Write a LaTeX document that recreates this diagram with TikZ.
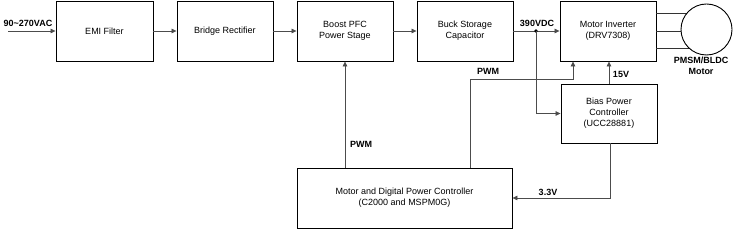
\documentclass[tikz,border=0pt]{standalone}
\usepackage{fontspec}
\setmainfont{Liberation Sans}
\usetikzlibrary{arrows.meta}
\begin{document}
\begin{tikzpicture}[x=1pt,y=-1pt,
  blk/.style={draw=black,line width=0.9pt,minimum width=96pt,minimum height=60pt,inner sep=0pt,align=center,font=\fontsize{9}{11}\selectfont},
  conn/.style={draw=black!70,line width=0.7pt},
  arr/.style={conn,-{Triangle[length=5pt,width=4.5pt]}},
  lbl/.style={font=\fontsize{9}{11}\selectfont\bfseries,inner sep=0pt,align=center}]
\useasboundingbox (0,0) rectangle (740,229);
\node[blk,minimum width=97pt] (emi) at (104.5,31) {EMI Filter};
\node[blk] (bridge) at (225,31) {Bridge Rectifier};
\node[blk] (boost) at (345,31) {Boost PFC\\Power Stage};
\node[blk] (buck) at (465,31) {Buck Storage\\Capacitor};
\node[blk] (inv) at (608,31) {Motor Inverter\\(DRV7308)};
\node[blk,minimum height=59pt] (bias) at (609,113.5) {Bias Power\\Controller\\(UCC28881)};
\node[blk,minimum width=215pt] (ctrl) at (404.5,198) {Motor and Digital Power Controller\\(C2000 and MSPM0G)};

\coordinate (in) at (8,31);
\draw[arr] (in) -- (emi.west);
\node[lbl] (inlbl) at (28,23) {90\textasciitilde270VAC};
\draw[arr] (emi) -- (bridge);
\draw[arr] (bridge) -- (boost);
\draw[arr] (boost) -- (buck);
\draw[arr] (buck) -- (inv);
\coordinate (dot) at (536,31);
\fill[black] (dot) circle (1.8pt);
\node[lbl] (v390) at (537,23) {390VDC};
\draw[arr] (dot) |- (bias.west);

\draw[arr] (bias.north) -- (inv.south -| bias.north);
\node[lbl] (v15) at (621,74) {15V};

\coordinate (p1) at (470,79);
\coordinate (p2) at (573,79);
\draw[arr] (ctrl.north -| p1) -- (p1) -- (p2) -- (inv.south -| p2);
\node[lbl] (pwm1) at (488,71) {PWM};

\draw[arr] (ctrl.north -| boost.south) -- (boost.south);
\node[lbl] (pwm2) at (361,144) {PWM};

\coordinate (q1) at (610,198);
\draw[arr] (bias.south -| q1) -- (q1) -- (ctrl.east);
\node[lbl] (v33) at (548,192) {3.3V};

\coordinate (motc) at (706.5,29.5);
\draw[conn,draw=black!80] (inv.east |- 0,13) -- (motc |- 0,13);
\draw[conn,draw=black!80] (inv.east |- 0,31) -- (motc |- 0,31);
\draw[conn,draw=black!80] (inv.east |- 0,48) -- (motc |- 0,48);
\node[draw=black,line width=0.9pt,fill=white,circle,minimum size=51pt,inner sep=0pt] (motor) at (motc) {};
\node[lbl] (motlbl) at (701,66) {PMSM/BLDC\\Motor};
\end{tikzpicture}
\end{document}
